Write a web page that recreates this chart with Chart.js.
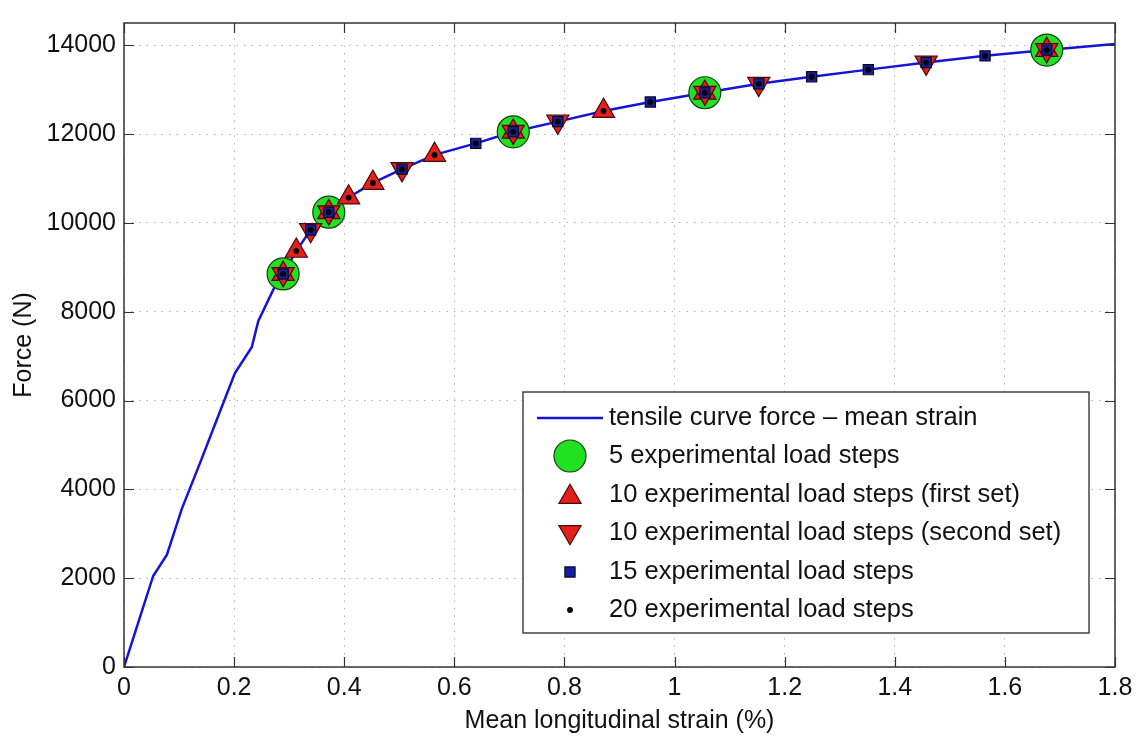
<!DOCTYPE html>
<html>
<head>
<meta charset="utf-8">
<script src="https://cdn.jsdelivr.net/npm/chart.js@4"></script>
<style>
  html, body { margin: 0; padding: 0; background: #fff; }
  canvas { display: block; }
</style>
</head>
<body>
<canvas id="chart" width="1143" height="738"></canvas>
<script>
// tensile curve (mean strain %, force N)
const curveStrain = [0, 0.053, 0.078, 0.105, 0.138, 0.168, 0.2015, 0.232, 0.244, 0.274,
  0.289, 0.313, 0.339, 0.372, 0.408, 0.452, 0.505, 0.564, 0.639, 0.707, 0.788, 0.871,
  0.956, 1.055, 1.153, 1.249, 1.352, 1.457, 1.564, 1.676, 1.8];
const curveForce = [0, 2050, 2530, 3560, 4590, 5550, 6620, 7200, 7790, 8570,
  8850, 9370, 9840, 10240, 10570, 10900, 11210, 11530, 11790, 12050, 12280, 12520,
  12720, 12930, 13130, 13290, 13450, 13610, 13760, 13890, 14030];

// load step sets
const steps5Strain = [0.289, 0.372, 0.707, 1.055, 1.676];
const steps5Force  = [8850, 10240, 12050, 12930, 13890];

const steps10aStrain = [0.289, 0.313, 0.372, 0.408, 0.452, 0.564, 0.707, 0.871, 1.055, 1.676];
const steps10aForce  = [8850, 9370, 10240, 10570, 10900, 11530, 12050, 12520, 12930, 13890];

const steps10bStrain = [0.289, 0.339, 0.372, 0.505, 0.707, 0.788, 1.055, 1.153, 1.457, 1.676];
const steps10bForce  = [8850, 9840, 10240, 11210, 12050, 12280, 12930, 13130, 13610, 13890];

const steps15Strain = [0.289, 0.339, 0.372, 0.505, 0.639, 0.707, 0.788, 0.956, 1.055, 1.153,
  1.249, 1.352, 1.457, 1.564, 1.676];
const steps15Force  = [8850, 9840, 10240, 11210, 11790, 12050, 12280, 12720, 12930, 13130,
  13290, 13450, 13610, 13760, 13890];

const steps20Strain = [0.289, 0.313, 0.339, 0.372, 0.408, 0.452, 0.505, 0.564, 0.639, 0.707,
  0.788, 0.871, 0.956, 1.055, 1.153, 1.249, 1.352, 1.457, 1.564, 1.676];
const steps20Force  = [8850, 9370, 9840, 10240, 10570, 10900, 11210, 11530, 11790, 12050,
  12280, 12520, 12720, 12930, 13130, 13290, 13450, 13610, 13760, 13890];

// axes
const xTicks = [0, 0.2, 0.4, 0.6, 0.8, 1, 1.2, 1.4, 1.6, 1.8];
const xTickLabels = ['0', '0.2', '0.4', '0.6', '0.8', '1', '1.2', '1.4', '1.6', '1.8'];
const yTicks = [0, 2000, 4000, 6000, 8000, 10000, 12000, 14000];
const yTickLabels = ['0', '2000', '4000', '6000', '8000', '10000', '12000', '14000'];

const legendLabels = [
  'tensile curve force \u2013 mean strain',
  '5 experimental load steps',
  '10 experimental load steps (first set)',
  '10 experimental load steps (second set)',
  '15 experimental load steps',
  '20 experimental load steps'
];

const FONT = '"Liberation Sans", Arial, Helvetica, sans-serif';
const AXIS = '#333333';
const toXY = (xs, ys) => xs.map((x, i) => ({ x: x, y: ys[i] }));

// marker styles
const M = {
  line:   { color: '#1414d8' },
  circle: { fill: '#22e022', stroke: '#123f12', r: 16 },
  up:     { fill: '#e3201c', stroke: '#4a0808', r: 12.8 },
  down:   { fill: '#e3201c', stroke: '#4a0808', r: 12.8 },
  square: { fill: '#161f9c', stroke: '#08082e', r: 7.2 },
  dot:    { fill: '#000000', stroke: '#000000', r: 2.3 }
};

function drawMarker(ctx, kind, x, y) {
  const s = M[kind];
  ctx.save();
  ctx.fillStyle = s.fill;
  ctx.strokeStyle = s.stroke;
  ctx.lineWidth = 1.2;
  ctx.beginPath();
  if (kind === 'circle' || kind === 'dot') {
    ctx.arc(x, y, s.r, 0, Math.PI * 2);
  } else if (kind === 'square') {
    const h = s.r * Math.SQRT1_2;
    ctx.rect(x - h, y - h, 2 * h, 2 * h);
  } else {
    const dir = kind === 'up' ? 1 : -1;
    for (let k = 0; k < 3; k++) {
      const a = k * 2 * Math.PI / 3;
      const px = x + Math.sin(a) * s.r;
      const py = y - dir * Math.cos(a) * s.r;
      if (k === 0) ctx.moveTo(px, py); else ctx.lineTo(px, py);
    }
    ctx.closePath();
  }
  ctx.fill();
  ctx.stroke();
  ctx.restore();
}

// MATLAB-like box, inward ticks and legend
const framePlugin = {
  id: 'frame',
  afterDraw(chart) {
    const { ctx, chartArea: a, scales } = chart;
    ctx.save();
    ctx.strokeStyle = AXIS;
    ctx.lineWidth = 1.5;
    ctx.strokeRect(a.left, a.top, a.right - a.left, a.bottom - a.top);
    ctx.lineWidth = 1.2;
    ctx.beginPath();
    xTicks.forEach(v => {
      const px = Math.round(scales.x.getPixelForValue(v)) + 0.5;
      ctx.moveTo(px, a.bottom); ctx.lineTo(px, a.bottom - 10);
      ctx.moveTo(px, a.top); ctx.lineTo(px, a.top + 10);
    });
    yTicks.forEach(v => {
      const py = Math.round(scales.y.getPixelForValue(v)) + 0.5;
      ctx.moveTo(a.left, py); ctx.lineTo(a.left + 10, py);
      ctx.moveTo(a.right, py); ctx.lineTo(a.right - 10, py);
    });
    ctx.stroke();

    // legend box
    const bx = 523, by = 392, bw = 566, bh = 241;
    ctx.fillStyle = '#ffffff';
    ctx.fillRect(bx, by, bw, bh);
    ctx.strokeStyle = '#444444';
    ctx.lineWidth = 1.5;
    ctx.strokeRect(bx, by, bw, bh);

    const rowY = [418, 456, 495, 533, 572, 610];
    const mx = 570;
    ctx.strokeStyle = M.line.color;
    ctx.lineWidth = 2.4;
    ctx.beginPath();
    ctx.moveTo(537, rowY[0]); ctx.lineTo(603, rowY[0]);
    ctx.stroke();
    drawMarker(ctx, 'circle', mx, rowY[1]);
    drawMarker(ctx, 'up', mx, rowY[2] + 2);
    drawMarker(ctx, 'down', mx, rowY[3] - 1);
    drawMarker(ctx, 'square', mx, rowY[4]);
    drawMarker(ctx, 'dot', mx, rowY[5]);

    ctx.fillStyle = '#111111';
    ctx.font = '25.5px ' + FONT;
    ctx.textBaseline = 'middle';
    ctx.textAlign = 'left';
    legendLabels.forEach((t, i) => ctx.fillText(t, 609, rowY[i]));
    ctx.restore();
  }
};

function scatterSet(label, xs, ys, kind, style, rotation, order) {
  const s = M[kind];
  return {
    type: 'scatter',
    label: label,
    data: toXY(xs, ys),
    showLine: false,
    pointStyle: style,
    pointRotation: rotation,
    pointRadius: s.r,
    pointHoverRadius: s.r,
    pointBackgroundColor: s.fill,
    pointBorderColor: s.stroke,
    pointBorderWidth: 1.2,
    order: order
  };
}

new Chart(document.getElementById('chart'), {
  type: 'scatter',
  data: {
    datasets: [
      {
        type: 'line',
        label: legendLabels[0],
        data: toXY(curveStrain, curveForce),
        borderColor: M.line.color,
        borderWidth: 2.5,
        pointRadius: 0,
        tension: 0,
        fill: false,
        order: 5
      },
      scatterSet(legendLabels[1], steps5Strain, steps5Force, 'circle', 'circle', 0, 4),
      scatterSet(legendLabels[2], steps10aStrain, steps10aForce, 'up', 'triangle', 0, 3),
      scatterSet(legendLabels[3], steps10bStrain, steps10bForce, 'down', 'triangle', 180, 2),
      scatterSet(legendLabels[4], steps15Strain, steps15Force, 'square', 'rect', 0, 1),
      scatterSet(legendLabels[5], steps20Strain, steps20Force, 'dot', 'circle', 0, 0)
    ]
  },
  options: {
    responsive: false,
    animation: false,
    layout: { padding: { left: 0, top: 11, right: 28, bottom: 0 } },
    plugins: {
      legend: { display: false },
      tooltip: { enabled: false }
    },
    scales: {
      x: {
        type: 'linear',
        min: 0,
        max: 1.8,
        afterBuildTicks: axis => { axis.ticks = xTicks.map(v => ({ value: v })); },
        afterFit: axis => { axis.height = 71; },
        ticks: {
          padding: 6,
          color: '#111',
          font: { family: FONT, size: 25 },
          maxRotation: 0,
          callback: (v, i) => xTickLabels[i]
        },
        grid: { color: '#b5b5b5', lineWidth: 1, drawTicks: false },
        border: { display: false, dash: [1.5, 6] },
        title: {
          display: true,
          text: 'Mean longitudinal strain (%)',
          color: '#111',
          font: { family: FONT, size: 25 },
          padding: { top: 4, bottom: 2 }
        }
      },
      y: {
        type: 'linear',
        min: 0,
        max: 14500,
        afterBuildTicks: axis => { axis.ticks = yTicks.map(v => ({ value: v })); },
        afterFit: axis => { axis.width = 124; },
        ticks: {
          padding: 8,
          color: '#111',
          font: { family: FONT, size: 25 },
          callback: (v, i) => yTickLabels[i]
        },
        grid: { color: '#b5b5b5', lineWidth: 1, drawTicks: false },
        border: { display: false, dash: [1.5, 6] },
        title: {
          display: true,
          text: 'Force (N)',
          color: '#111',
          font: { family: FONT, size: 25 },
          padding: { top: 9, bottom: 4 }
        }
      }
    }
  },
  plugins: [framePlugin]
});
</script>
</body>
</html>
